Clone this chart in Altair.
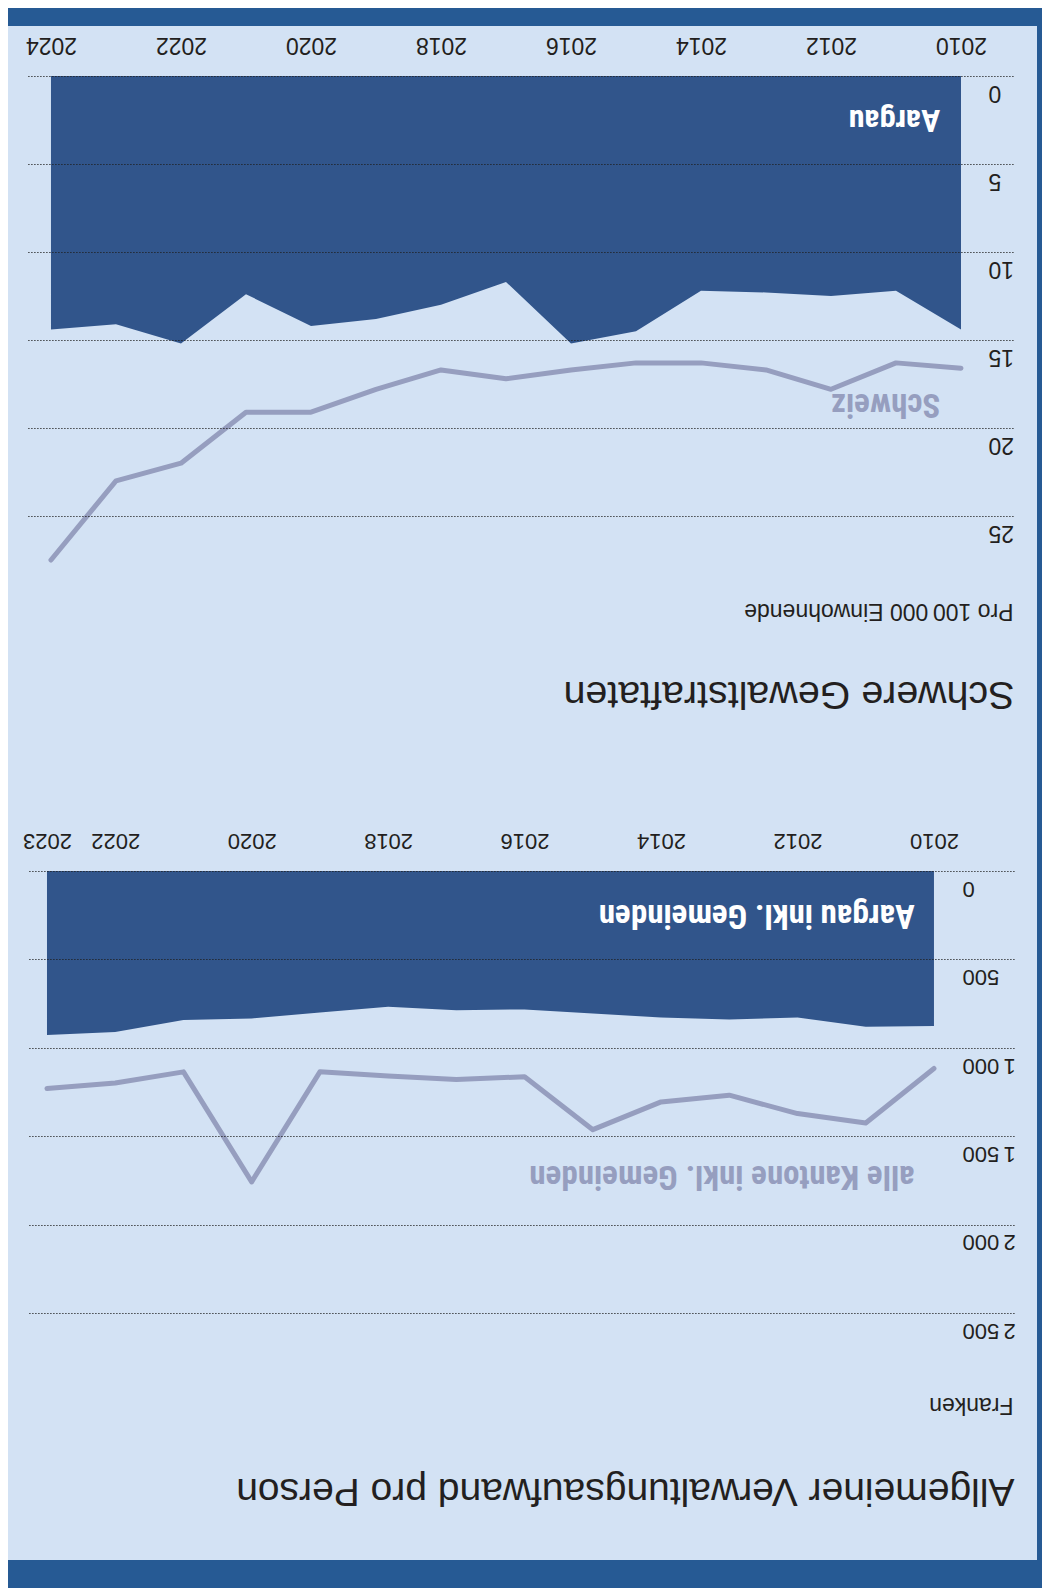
import altair as alt
import pandas as pd

LIGHT = "#d3e2f4"
DARK = "#265a94"
AREA = "#31558b"
LINE = "#969ebf"
TXT = "#231f20"
FONT = "Liberation Sans, Arial, Helvetica, sans-serif"
FONT_NARROW = "Liberation Sans Narrow, Arial Narrow, Roboto Condensed, DejaVu Sans Condensed, sans-serif"

# ---- Schwere Gewaltstraftaten (pro 100 000 Einwohnende)
gewalt_years = [2010, 2011, 2012, 2013, 2014, 2015, 2016, 2017, 2018, 2019, 2020, 2021, 2022, 2023, 2024]
gewalt_aargau = [14.4, 12.2, 12.5, 12.3, 12.2, 14.5, 15.2, 11.7, 13.0, 13.8, 14.2, 12.4, 15.2, 14.1, 14.4]
gewalt_schweiz = [16.6, 16.3, 17.8, 16.7, 16.3, 16.3, 16.7, 17.2, 16.7, 17.8, 19.1, 19.1, 22.0, 23.0, 27.5]
gewalt_xticks = [2010, 2012, 2014, 2016, 2018, 2020, 2022, 2024]
gewalt_yticks = [0, 5, 10, 15, 20, 25]
gewalt_labels = ["Aargau", "Schweiz"]
gewalt_label_x = [2010.32, 2010.32]
gewalt_label_y = [2.5, 18.64]

# ---- Allgemeiner Verwaltungsaufwand pro Person (Franken)
verw_years = [2010, 2011, 2012, 2013, 2014, 2015, 2016, 2017, 2018, 2019, 2020, 2021, 2022, 2023]
verw_aargau = [876, 881, 829, 840, 829, 806, 783, 787, 768, 800, 834, 843, 910, 928]
verw_kantone = [1117, 1425, 1372, 1268, 1306, 1463, 1164, 1179, 1159, 1136, 1758, 1136, 1199, 1230]
verw_xticks = [2010, 2012, 2014, 2016, 2018, 2020, 2022, 2023]
verw_yticks = [0, 500, 1000, 1500, 2000, 2500]
verw_labels = ["Aargau inkl. Gemeinden", "alle Kantone inkl. Gemeinden"]
verw_label_x = [2010.28, 2010.28]
verw_label_y = [249, 1726]

THIN = "\u2009"


def panel(years, area_vals, line_vals, xdom, ydom, width, height, xticks, yticks,
          xlab_pad, xlab_size, ylab_x, ylab_off, ylab_size, ylabel_expr, ytitle, ytitle_y,
          title, title_y, title_size, labels, label_x, label_y, label_sizes, deco=None):
    df = pd.DataFrame({"Jahr": years, "Aargau": area_vals, "Vergleich": line_vals})
    ann = pd.DataFrame({"Jahr": label_x, "Wert": label_y, "Text": labels})

    xaxis = alt.Axis(orient="top", values=xticks, format="d", labelAngle=180,
                     labelAlign="center", labelBaseline="alphabetic", labelPadding=xlab_pad,
                     labelFontSize=xlab_size, labelFont=FONT, labelColor=TXT,
                     ticks=False, tickSize=0, domain=False, grid=False,
                     labelFlush=False, labelOverlap=False, zindex=1,
                     title=title, titleAngle=180, titleAlign="left", titleBaseline="alphabetic",
                     titleX=987, titleY=title_y, titleFont=FONT, titleFontSize=title_size,
                     titleFontWeight="normal", titleColor=TXT)
    yaxis_kw = dict(orient="left", values=yticks, labelAngle=180, labelAlign="right",
                    labelBaseline="alphabetic", labelPadding=-ylab_x, labelOffset=ylab_off,
                    labelFontSize=ylab_size, labelFont=FONT, labelColor=TXT,
                    ticks=False, tickSize=0, domain=False, grid=True, gridColor="#1e1e1e",
                    gridDash=[1.2, 1.8], gridWidth=1.2, labelFlush=False, labelOverlap=False,
                    minExtent=0, maxExtent=0, zindex=1,
                    title=ytitle, titleAngle=180, titleAlign="left", titleBaseline="alphabetic",
                    titleX=986, titleY=ytitle_y, titleFont=FONT, titleFontSize=23,
                    titleFontWeight="normal", titleColor=TXT)
    if ylabel_expr:
        yaxis_kw["labelExpr"] = ylabel_expr
    yaxis = alt.Axis(**yaxis_kw)

    xscale = alt.Scale(domain=xdom, reverse=True, nice=False, zero=False)
    yscale = alt.Scale(domain=ydom, reverse=True, nice=False, zero=True)
    X = alt.X("Jahr:Q", scale=xscale, axis=xaxis)

    area = alt.Chart(df).mark_area(color=AREA, opacity=1).encode(
        x=X, y=alt.Y("Aargau:Q", scale=yscale, axis=yaxis),
    )
    line = alt.Chart(df).mark_line(color=LINE, strokeWidth=5, strokeCap="round",
                                   strokeJoin="round").encode(
        x=X, y=alt.Y("Vergleich:Q", scale=yscale, axis=yaxis),
    )
    ann_top = alt.Chart(ann.iloc[[0]]).mark_text(
        angle=180, align="left", baseline="middle", font=FONT_NARROW,
        fontSize=label_sizes[0], fontWeight="bold", color="#ffffff").encode(
        x=X, y=alt.Y("Wert:Q", scale=yscale, axis=yaxis), text="Text:N",
    )
    ann_bot = alt.Chart(ann.iloc[[1]]).mark_text(
        angle=180, align="left", baseline="middle", font=FONT_NARROW,
        fontSize=label_sizes[1], fontWeight="bold", color=LINE).encode(
        x=X, y=alt.Y("Wert:Q", scale=yscale, axis=yaxis), text="Text:N",
    )
    layers = (deco or []) + [area, line, ann_top, ann_bot]
    return alt.layer(*layers).properties(width=width, height=height)


# page frame (light sheet with dark border bands), drawn behind the first panel
frame_df = pd.DataFrame({"k": [0]})


def band(color, x0, x1, y0, y1):
    return alt.Chart(frame_df).mark_rect(color=color).encode(
        x=alt.value(x0), x2=alt.value(x1), y=alt.value(y0), y2=alt.value(y1)
    )


deco = [
    band(LIGHT, -19, 1010, -50, 1484),
    band(DARK, -19, 1015, -68, -50),
    band(DARK, 1010, 1015, -50, 1484),
    band(DARK, -19, 1015, 1484, 1512),
]

p1 = panel(gewalt_years, gewalt_aargau, gewalt_schweiz, [2009.2, 2024.369], [0, 25],
           986, 440, gewalt_xticks, gewalt_yticks, 39, 23, 961, 9.5, 23, None,
           "Pro 100" + THIN + "000 Einwohnende", 527, "Schwere Gewaltstraftaten", 605, 39.4,
           gewalt_labels, gewalt_label_x, gewalt_label_y, [32, 33], deco=deco)

p2 = panel(verw_years, verw_aargau, verw_kantone, [2008.827, 2023.293], [0, 2500],
           987, 442, verw_xticks, verw_yticks, 38, 22, 935, 10.3, 22,
           "datum.value >= 1000 ? replace(format(datum.value, ','), ',', '" + THIN + "') : datum.label",
           "Franken", 526, "Allgemeiner Verwaltungsaufwand pro Person", 607, 39,
           verw_labels, verw_label_x, verw_label_y, [33, 33])

chart = alt.vconcat(p1, p2, spacing=355, bounds="flush").properties(
    background=DARK, padding=0
).configure_view(strokeWidth=0)

chart.save("out.html", embed_options={"renderer": "svg", "actions": False})
